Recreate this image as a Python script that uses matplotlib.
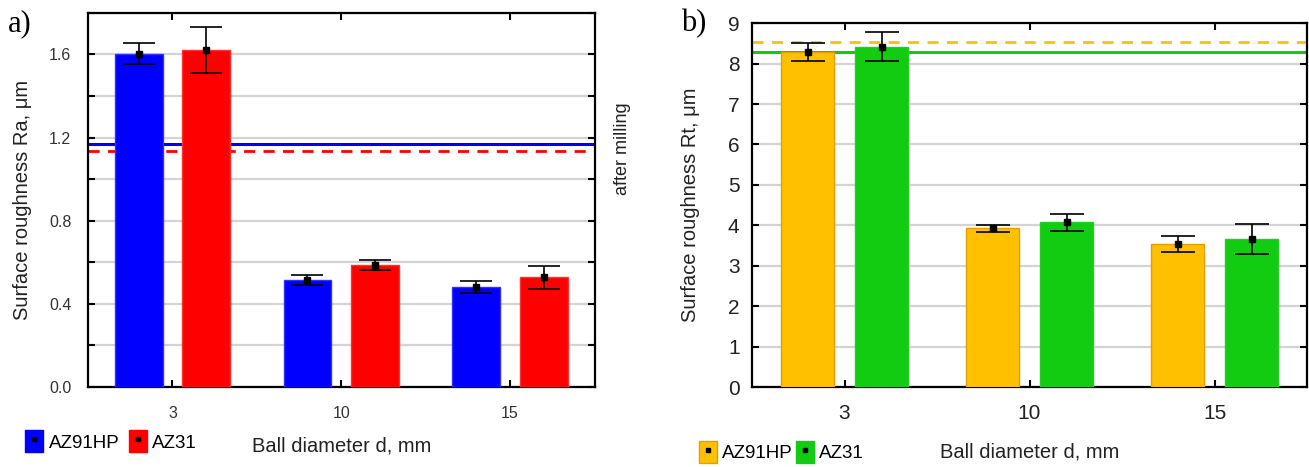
import matplotlib
matplotlib.use("Agg")
import matplotlib.pyplot as plt
import numpy as np
from matplotlib.patches import Patch
from matplotlib.lines import Line2D
from matplotlib.legend_handler import HandlerTuple

# ---- data ----
categories = ["3", "10", "15"]
series = ["AZ91HP", "AZ31"]

ra_az91hp = [1.603, 0.514, 0.481]
ra_az91hp_err = [0.051, 0.023, 0.027]
ra_az31 = [1.620, 0.586, 0.527]
ra_az31_err = [0.110, 0.025, 0.057]
ra_milling_az91hp = 1.168
ra_milling_az31 = 1.138

rt_az91hp = [8.29, 3.93, 3.54]
rt_az91hp_err = [0.23, 0.09, 0.19]
rt_az31 = [8.42, 4.07, 3.66]
rt_az31_err = [0.36, 0.21, 0.37]
rt_milling_az91hp = 8.54
rt_milling_az31 = 8.29

plt.rcParams['font.family'] = ['Liberation Sans', 'DejaVu Sans']

fig = plt.figure(figsize=(13.09, 4.67), dpi=100)
axa = fig.add_axes([0.0672, 0.1713, 0.3870, 0.8010])
axb = fig.add_axes([0.5745, 0.1713, 0.4240, 0.7790])

x = np.arange(len(categories))
w = 0.283
off = 0.2


def draw(ax, v1, e1, v2, e2, c1, c2, ec1, ec2, capsize):
    ax.bar(x - off, v1, w, color=c1, edgecolor=ec1, linewidth=1.0, zorder=3)
    ax.bar(x + off, v2, w, color=c2, edgecolor=ec2, linewidth=1.0, zorder=3)
    for xs, v, e in ((x - off, v1, e1), (x + off, v2, e2)):
        ax.errorbar(xs, v, yerr=e, fmt='s', color='black', ms=4.5,
                    ecolor='black', elinewidth=1.2, capsize=capsize,
                    capthick=1.2, zorder=5)
    ax.set_xlim(-0.5, 2.5)
    ax.set_xticks(x)
    ax.set_xticklabels(categories)
    ax.grid(axis='y', color='#d4d4d4', linewidth=1.6, zorder=0)
    ax.set_axisbelow(True)
    for s in ax.spines.values():
        s.set_linewidth(1.6)
        s.set_color('black')
    ax.tick_params(direction='in', length=5, width=1.5, top=True, right=True,
                   colors='black')
    ax.tick_params(axis='x', pad=14)


# ---- panel a ----
axa.axhline(ra_milling_az91hp, color='#0000ff', lw=2.2, zorder=2)
axa.axhline(ra_milling_az31, color='#ff0000', lw=2.0, ls=(0, (4, 3)), zorder=2)
draw(axa, ra_az91hp, ra_az91hp_err, ra_az31, ra_az31_err,
     '#0000ff', '#ff0000', '#3030ff', '#ff3030', 11.5)
axa.set_ylim(0, 1.8)
axa.set_yticks(np.arange(0, 1.81, 0.2))
axa.set_yticklabels(['0.0', '', '0.4', '', '0.8', '', '1.2', '', '1.6', ''])
axa.tick_params(labelsize=11.5, labelcolor='#333333')
axa.tick_params(axis='y', pad=12)
axa.set_ylabel('Surface roughness Ra, μm', fontsize=14.5, labelpad=12, color='#222222')
axa.set_xlabel('Ball diameter d, mm', fontsize=14.5, labelpad=11, color='#222222')
axa.text(1.055, 0.636, 'after milling', rotation=90, transform=axa.transAxes,
         fontsize=13, ha='center', va='center', color='#222222')

# ---- panel b ----
axb.axhline(rt_milling_az91hp, color='#ffc000', lw=2.0, ls=(0, (4, 3)), zorder=2)
axb.axhline(rt_milling_az31, color='#11cc11', lw=2.2, zorder=2)
draw(axb, rt_az91hp, rt_az91hp_err, rt_az31, rt_az31_err,
     '#ffc000', '#11cc11', '#e0a000', '#22d022', 12)
axb.set_ylim(0, 9)
axb.set_yticks(np.arange(0, 10, 1))
axb.tick_params(labelsize=15, labelcolor='#222222')
axb.tick_params(axis='x', pad=12)
axb.tick_params(axis='y', pad=9)
axb.set_ylabel('Surface roughness Rt, μm', fontsize=14.5, labelpad=20, color='#222222')
axb.set_xlabel('Ball diameter d, mm', fontsize=14.5, labelpad=14, color='#222222')

# ---- panel letters ----
fig.text(0.006, 0.95, 'a)', fontsize=22, family='Liberation Serif', va='center')
fig.text(0.520, 0.95, 'b)', fontsize=22, family='Liberation Serif', va='center')

# ---- legends ----
def mk_handles(c1, c2, ec1, ec2):
    hs = []
    for c, ec in ((c1, ec1), (c2, ec2)):
        hs.append((Patch(facecolor=c, edgecolor=ec),
                   Line2D([], [], marker='s', color='black', ls='none', ms=3.5)))
    return hs

la = axa.legend(mk_handles('#0000ff', '#ff0000', '#0000ff', '#ff0000'), series,
                handler_map={tuple: HandlerTuple(ndivide=1, pad=0)},
                loc='center left', bbox_to_anchor=(0.0165, 0.055),
                bbox_transform=fig.transFigure, ncol=2, frameon=False,
                handlelength=0.95, handleheight=1.4, handletextpad=0.3,
                columnspacing=0.5, fontsize=13.5, borderpad=0.2, borderaxespad=0)
lb = axb.legend(mk_handles('#ffc000', '#11cc11', '#e0a000', '#11cc11'), series,
                handler_map={tuple: HandlerTuple(ndivide=1, pad=0)},
                loc='center left', bbox_to_anchor=(0.531, 0.032),
                bbox_transform=fig.transFigure, ncol=2, frameon=False,
                handlelength=0.95, handleheight=1.4, handletextpad=0.3,
                columnspacing=0.15, fontsize=13.5, borderpad=0.2, borderaxespad=0)

fig.savefig('out.png', dpi=100)
